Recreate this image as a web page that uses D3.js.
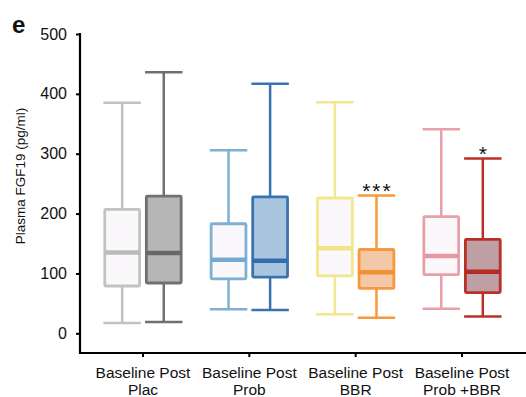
<!DOCTYPE html>
<html>
<head>
<meta charset="utf-8">
<script src="https://cdn.jsdelivr.net/npm/d3@7"></script>
<style>
  body { margin: 0; background: #fff; }
  text { font-family: "Liberation Sans", Arial, sans-serif; fill: #111; }
</style>
</head>
<body>
<svg id="chart" width="526" height="397"></svg>
<script>
const groups = ["Plac", "Prob", "BBR", "Prob +BBR"];
const phases = ["Baseline", "Post"];
// [min, q1, median, q3, max] per group, baseline then post
const baselineStats = [
  [17, 79, 135, 207, 385],
  [40, 91, 123, 183, 306],
  [32, 96, 142, 226, 386],
  [41, 98, 129, 195, 341]
];
const postStats = [
  [19, 84, 134, 229, 436],
  [39, 94, 121, 228, 417],
  [26, 75, 102, 140, 230],
  [28, 68, 103, 157, 292]
];
const stars = ["", "", "***", "*"];
const yTicks = [0, 100, 200, 300, 400, 500];

const colors = {
  baseline: [
    {stroke: "#c2c2c2", fill: "#faf8fa", median: "#bababa"},
    {stroke: "#7eb0d2", fill: "#faf8fa", median: "#74a8cc"},
    {stroke: "#f2e68e", fill: "#faf8fa", median: "#f0e488"},
    {stroke: "#eaa0a8", fill: "#faf8fa", median: "#e698a0"}
  ],
  post: [
    {stroke: "#707070", fill: "#b6b6b6", median: "#686868"},
    {stroke: "#3b73b1", fill: "#aac6de", median: "#356cab"},
    {stroke: "#f8983c", fill: "#f2c8a8", median: "#f59030"},
    {stroke: "#ba3028", fill: "#bea0a4", median: "#b52a22"}
  ]
};

const svg = d3.select("#chart");

const y = d3.scaleLinear().domain([0, 500]).range([333.3, 34]);
const x = d3.scaleBand().domain(groups).range([89.8, 515.2]);
const sub = d3.scaleBand().domain(phases).range([-39.5, 39.5]).paddingInner(0.1);

// y axis
const yAxis = d3.axisLeft(y).tickValues(yTicks).tickSize(4).tickPadding(9);
const gy = svg.append("g").attr("transform", "translate(80,0)").call(yAxis);
gy.select(".domain").remove();
gy.selectAll(".tick line").attr("stroke", "#000").attr("stroke-width", 2);
gy.selectAll(".tick text").style("font-size", "16px").attr("fill", "#111");
svg.append("line").attr("x1", 80).attr("x2", 80).attr("y1", 33).attr("y2", 354)
  .attr("stroke", "#000").attr("stroke-width", 2.2);

// x axis
const gx = svg.append("g").attr("transform", "translate(0,353)")
  .call(d3.axisBottom(x).tickSize(4).tickFormat(""));
gx.select(".domain").remove();
gx.selectAll(".tick line").attr("stroke", "#000").attr("stroke-width", 2);
svg.append("line").attr("x1", 79).attr("x2", 526).attr("y1", 353).attr("y2", 353)
  .attr("stroke", "#000").attr("stroke-width", 2.2);

// x labels
groups.forEach(g => {
  const cx = x(g) + x.bandwidth() / 2;
  svg.append("text").attr("x", cx).attr("y", 378).attr("text-anchor", "middle")
    .style("font-size", "15.5px").text("Baseline Post");
  svg.append("text").attr("x", cx).attr("y", 395).attr("text-anchor", "middle")
    .style("font-size", "15.5px").text(g);
});

// boxes
function drawBox(g, phase, s, c) {
  const cx = x(g) + x.bandwidth() / 2 + sub(phase) + sub.bandwidth() / 2;
  const w = sub.bandwidth();
  const box = svg.append("g");
  box.append("line").attr("x1", cx).attr("x2", cx).attr("y1", y(s[4])).attr("y2", y(s[3]))
    .attr("stroke", c.stroke).attr("stroke-width", 2.5);
  box.append("line").attr("x1", cx).attr("x2", cx).attr("y1", y(s[1])).attr("y2", y(s[0]))
    .attr("stroke", c.stroke).attr("stroke-width", 2.5);
  box.append("line").attr("x1", cx - w / 2).attr("x2", cx + w / 2).attr("y1", y(s[4])).attr("y2", y(s[4]))
    .attr("stroke", c.stroke).attr("stroke-width", 2.5);
  box.append("line").attr("x1", cx - w / 2).attr("x2", cx + w / 2).attr("y1", y(s[0])).attr("y2", y(s[0]))
    .attr("stroke", c.stroke).attr("stroke-width", 2.5);
  box.append("rect").attr("x", cx - w / 2 + 1.3).attr("width", w - 2.6)
    .attr("y", y(s[3])).attr("height", y(s[1]) - y(s[3]))
    .attr("fill", c.fill).attr("stroke", c.stroke).attr("stroke-width", 2.8).attr("rx", 1);
  box.append("line").attr("x1", cx - w / 2 + 1.3).attr("x2", cx + w / 2 - 1.3)
    .attr("y1", y(s[2])).attr("y2", y(s[2]))
    .attr("stroke", c.median).attr("stroke-width", 4.5);
  return cx;
}

groups.forEach((g, i) => {
  drawBox(g, "Baseline", baselineStats[i], colors.baseline[i]);
  const cx = drawBox(g, "Post", postStats[i], colors.post[i]);
  if (stars[i]) {
    svg.append("text").attr("x", cx + 1).attr("y", y(postStats[i][4]) + 2)
      .attr("text-anchor", "middle").style("font-size", "21px")
      .attr("letter-spacing", "2px").text(stars[i]);
  }
});

// y label
svg.append("text").attr("transform", "translate(25,176) rotate(-90)")
  .attr("text-anchor", "middle").style("font-size", "13.5px").text("Plasma FGF19 (pg/ml)");

// panel letter
svg.append("text").attr("x", 12).attr("y", 33).style("font-size", "24px")
  .style("font-weight", "bold").text("e");
</script>
</body>
</html>
